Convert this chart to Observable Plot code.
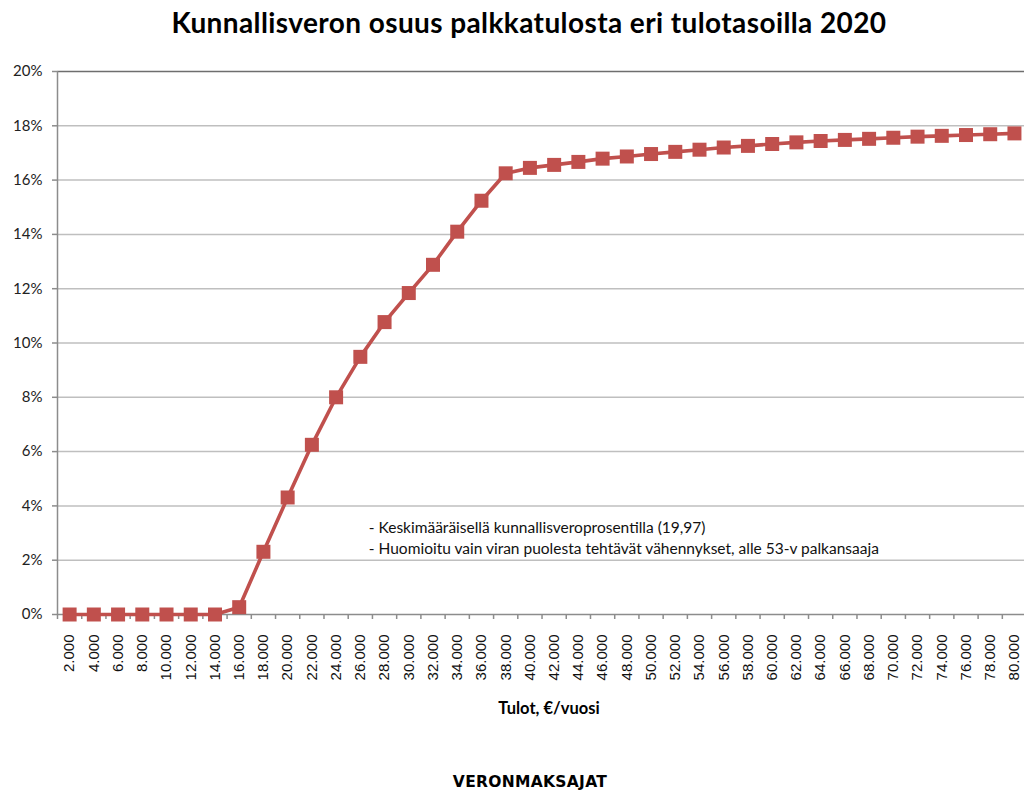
<!DOCTYPE html>
<html>
<head>
<meta charset="utf-8">
<script src="https://cdn.jsdelivr.net/npm/d3@7"></script>
<script src="https://cdn.jsdelivr.net/npm/@observablehq/plot@0.6"></script>
<style>
  html, body { margin: 0; padding: 0; background: #fff; }
  #wrap { position: relative; width: 1024px; height: 792px; overflow: hidden; }
  .lbl { position: absolute; text-align: center; font-family: Lato, "Open Sans", sans-serif; color: #000; font-weight: bold; white-space: nowrap; transform: translate(-50%, -50%); line-height: 1; }
  #title { top: 22px; left: 529px; font-size: 28px; letter-spacing: 0.4px; }
  #xtitle { top: 708px; left: 549px; font-size: 16.5px; }
  #footer { top: 783px; left: 530px; font-weight: 900; letter-spacing: 0.3px; font-family: "DejaVu Sans", sans-serif; font-size: 15.5px; }
</style>
</head>
<body>
<div id="wrap">
  <div id="chart"></div>
  <div class="lbl" id="title">Kunnallisveron osuus palkkatulosta eri tulotasoilla 2020</div>
  <div class="lbl" id="xtitle">Tulot, €/vuosi</div>
  <div class="lbl" id="footer">VERONMAKSAJAT</div>
</div>
<script>
// Income levels (€/year)
const incomes = [2000, 4000, 6000, 8000, 10000, 12000, 14000, 16000, 18000, 20000,
  22000, 24000, 26000, 28000, 30000, 32000, 34000, 36000, 38000, 40000,
  42000, 44000, 46000, 48000, 50000, 52000, 54000, 56000, 58000, 60000,
  62000, 64000, 66000, 68000, 70000, 72000, 74000, 76000, 78000, 80000];
// Municipal tax share of wage income (%)
const shares = [0, 0, 0, 0, 0, 0, 0, 0.27, 2.31, 4.31,
  6.25, 8.0, 9.49, 10.77, 11.84, 12.88, 14.10, 15.24, 16.25, 16.45,
  16.56, 16.67, 16.79, 16.87, 16.96, 17.04, 17.12, 17.20, 17.26, 17.33,
  17.39, 17.44, 17.48, 17.52, 17.56, 17.60, 17.63, 17.66, 17.69, 17.72];
const yTicks = [0, 2, 4, 6, 8, 10, 12, 14, 16, 18, 20];
const xBoundaries = d3.range(1000, 82000, 2000);
const notes = ["- Keskimääräisellä kunnallisveroprosentilla (19,97)",
  "- Huomioitu vain viran puolesta tehtävät vähennykset, alle 53-v palkansaaja"];

const data = incomes.map((x, i) => ({x, y: shares[i]}));
const fmtX = n => d3.format(",")(n).replace(/,/g, ".");
const red = "#c0504d";

const chart = Plot.plot({
  width: 1024,
  height: 792,
  marginTop: 71,
  marginBottom: 178,
  marginLeft: 57,
  marginRight: 0,
  style: {fontFamily: "Lato, sans-serif", background: "transparent"},
  x: {type: "linear", domain: [1000, 80830], axis: null},
  y: {domain: [0, 20], axis: null},
  marks: [
    Plot.ruleY(yTicks.filter(d => d > 0 && d < 20), {stroke: "#bfbfbf", strokeWidth: 1.5}),
    Plot.ruleY([20], {stroke: "#6e6e6e", strokeWidth: 1.5}),
    Plot.ruleX([1000], {stroke: "#8c8c8c", strokeWidth: 1.5}),
    Plot.ruleY([0], {stroke: "#8c8c8c", strokeWidth: 1.5}),
    Plot.axisY({ticks: yTicks, tickSize: 5, tickPadding: 10, tickFormat: d => d + "%", fontSize: 15, stroke: "#8c8c8c", fill: "#222", label: null, strokeWidth: 1.5}),
    Plot.axisX({ticks: xBoundaries, tickSize: 5, tickFormat: () => "", stroke: "#8c8c8c", label: null, strokeWidth: 1.5}),
    Plot.axisX({ticks: incomes, tickSize: 0, tickPadding: 20, tickRotate: -90, tickFormat: fmtX, fontSize: 15, fontFamily: "Liberation Sans, Arial, sans-serif", fill: "#111", label: null}),
    Plot.line(data, {x: "x", y: "y", stroke: red, strokeWidth: 3.6}),
    Plot.dot(data, {x: "x", y: "y", symbol: "square", r: 7.9, fill: red, stroke: "none"}),
    Plot.text([notes.join("\n")], {x: 26700, y: 2.87, text: d => d, textAnchor: "start", lineAnchor: "middle", lineHeight: 1.36, fontSize: 15.5, fill: "#111", fontFamily: "Lato, sans-serif"})
  ]
});
document.getElementById("chart").appendChild(chart);
</script>
</body>
</html>
